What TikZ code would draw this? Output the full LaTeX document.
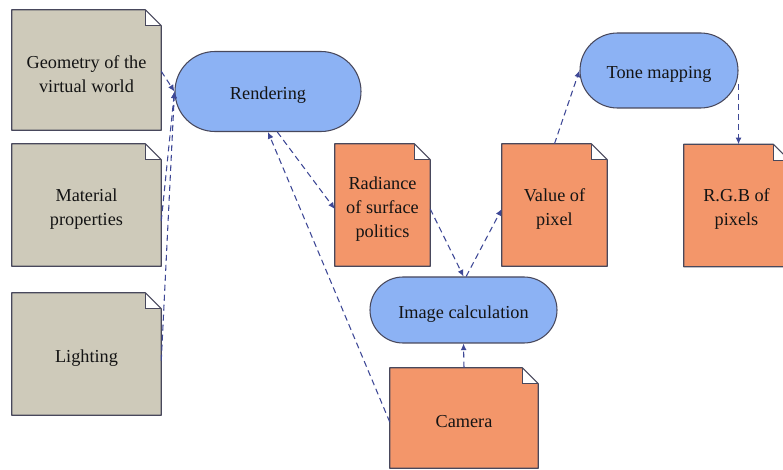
\documentclass[tikz,border=0pt]{standalone}
\usepackage{fontspec}
\setmainfont{Liberation Serif}
\usetikzlibrary{shapes.misc,arrows.meta,backgrounds}
\definecolor{bord}{RGB}{72,72,92}
\definecolor{greyfill}{RGB}{206,202,186}
\definecolor{orangefill}{RGB}{243,150,106}
\definecolor{bluefill}{RGB}{140,178,244}
\definecolor{lineblue}{RGB}{62,72,150}
\definecolor{txt}{RGB}{20,20,20}
% document outline drawn around a (text) node, lifted by 3pt so the text sits a little low
\newcommand\docshape[2]{%
  \path ([yshift=3pt]#1.south west) coordinate (dsw)
        ([yshift=3pt]#1.north west) coordinate (dnw)
        ([xshift=-12pt,yshift=3pt]#1.north east) coordinate (dfa)
        ([xshift=-12pt,yshift=-9pt]#1.north east) coordinate (dfb)
        ([yshift=-9pt]#1.north east) coordinate (dfc)
        ([yshift=3pt]#1.south east) coordinate (dse);
  \fill[#2] (dsw) -- (dnw) -- (dfa) -- (dfc) -- (dse) -- cycle;
  \fill[white] (dfa) -- (dfb) -- (dfc) -- cycle;
  \draw[bord,line width=0.8pt,line join=round] (dsw) -- (dnw) -- (dfa) -- (dfc) -- (dse) -- cycle;
  \draw[bord,line width=0.6pt] (dfa) -- (dfb) -- (dfc);
}
\tikzset{
  lbl/.style={text=txt, align=center, font=\fontsize{13.7pt}{18pt}\selectfont, inner sep=0pt},
  docbox/.style={lbl, rectangle, draw=none},
  pill/.style={lbl, rounded rectangle, draw=bord, line width=0.8pt, fill=bluefill,
    execute at begin node={\rule{0pt}{15pt}}},
  conn/.style={lineblue, line width=0.8pt, dash pattern=on 4.5pt off 3pt, -{Latex[length=5pt,width=4.5pt]}}
}
\begin{document}
\begin{tikzpicture}[x=0.75pt,y=-0.75pt]
\useasboundingbox (0,0) rectangle (783,470);
% document nodes (text 4px below the outline centre)
\node[docbox, minimum width=111.75pt, minimum height=90pt] (geo) at (86.5,74) {Geometry of the\\virtual world};
\node[docbox, minimum width=111.75pt, minimum height=91.5pt] (mat) at (86.5,209) {Material\\properties};
\node[docbox, minimum width=111.75pt, minimum height=91.5pt] (light) at (86.5,358) {Lighting};
\node[docbox, minimum width=71.25pt, minimum height=91.5pt] (rad) at (382.5,209) {Radiance\\of surface\\politics};
\node[docbox, minimum width=78.75pt, minimum height=91.5pt] (val) at (554.5,209) {Value of\\pixel};
\node[docbox, minimum width=78.75pt, minimum height=91.5pt] (rgb) at (736.5,209.5) {R.G.B of\\pixels};
\node[docbox, minimum width=111pt, minimum height=75pt] (cam) at (464,422) {Camera};
% pill nodes
\node[pill, minimum width=139.5pt, minimum height=60pt] (render) at (268,91.5) {Rendering};
\node[pill, minimum width=140.25pt, minimum height=49.5pt] (img) at (463.5,310) {Image calculation};
\node[pill, minimum width=118.5pt, minimum height=56.25pt] (tone) at (659,70.5) {Tone mapping};
\begin{pgfonlayer}{background}
  \docshape{geo}{greyfill}
  \docshape{mat}{greyfill}
  \docshape{light}{greyfill}
  \docshape{rad}{orangefill}
  \docshape{val}{orangefill}
  \docshape{rgb}{orangefill}
  \docshape{cam}{orangefill}
\end{pgfonlayer}
\coordinate (rgbtop) at ([yshift=3pt]rgb.north);
\coordinate (valtop) at ([yshift=3pt]val.north);
\coordinate (camtop) at ([yshift=3pt]cam.north);
\coordinate (toneout) at ([yshift=-10pt]tone.east);
% connectors
\draw[conn] ([yshift=2pt]geo.east) -- (render.west);
\draw[conn] ([yshift=-9pt]mat.east) -- (render.west);
\draw[conn] ([yshift=-2pt]light.east) -- (render.west);
\draw[conn] (cam.west) -- (render.south);
\draw[conn] ([xshift=7pt]render.south) -- (rad.west);
\draw[conn] (rad.east) -- (img.north);
\draw[conn] ([xshift=2pt]img.north) -- (val.west);
\draw[conn] (valtop) -- (tone.west);
\draw[conn] (toneout) -- (toneout |- rgbtop);
\draw[conn] (camtop) -- (img.south);
\end{tikzpicture}
\end{document}
